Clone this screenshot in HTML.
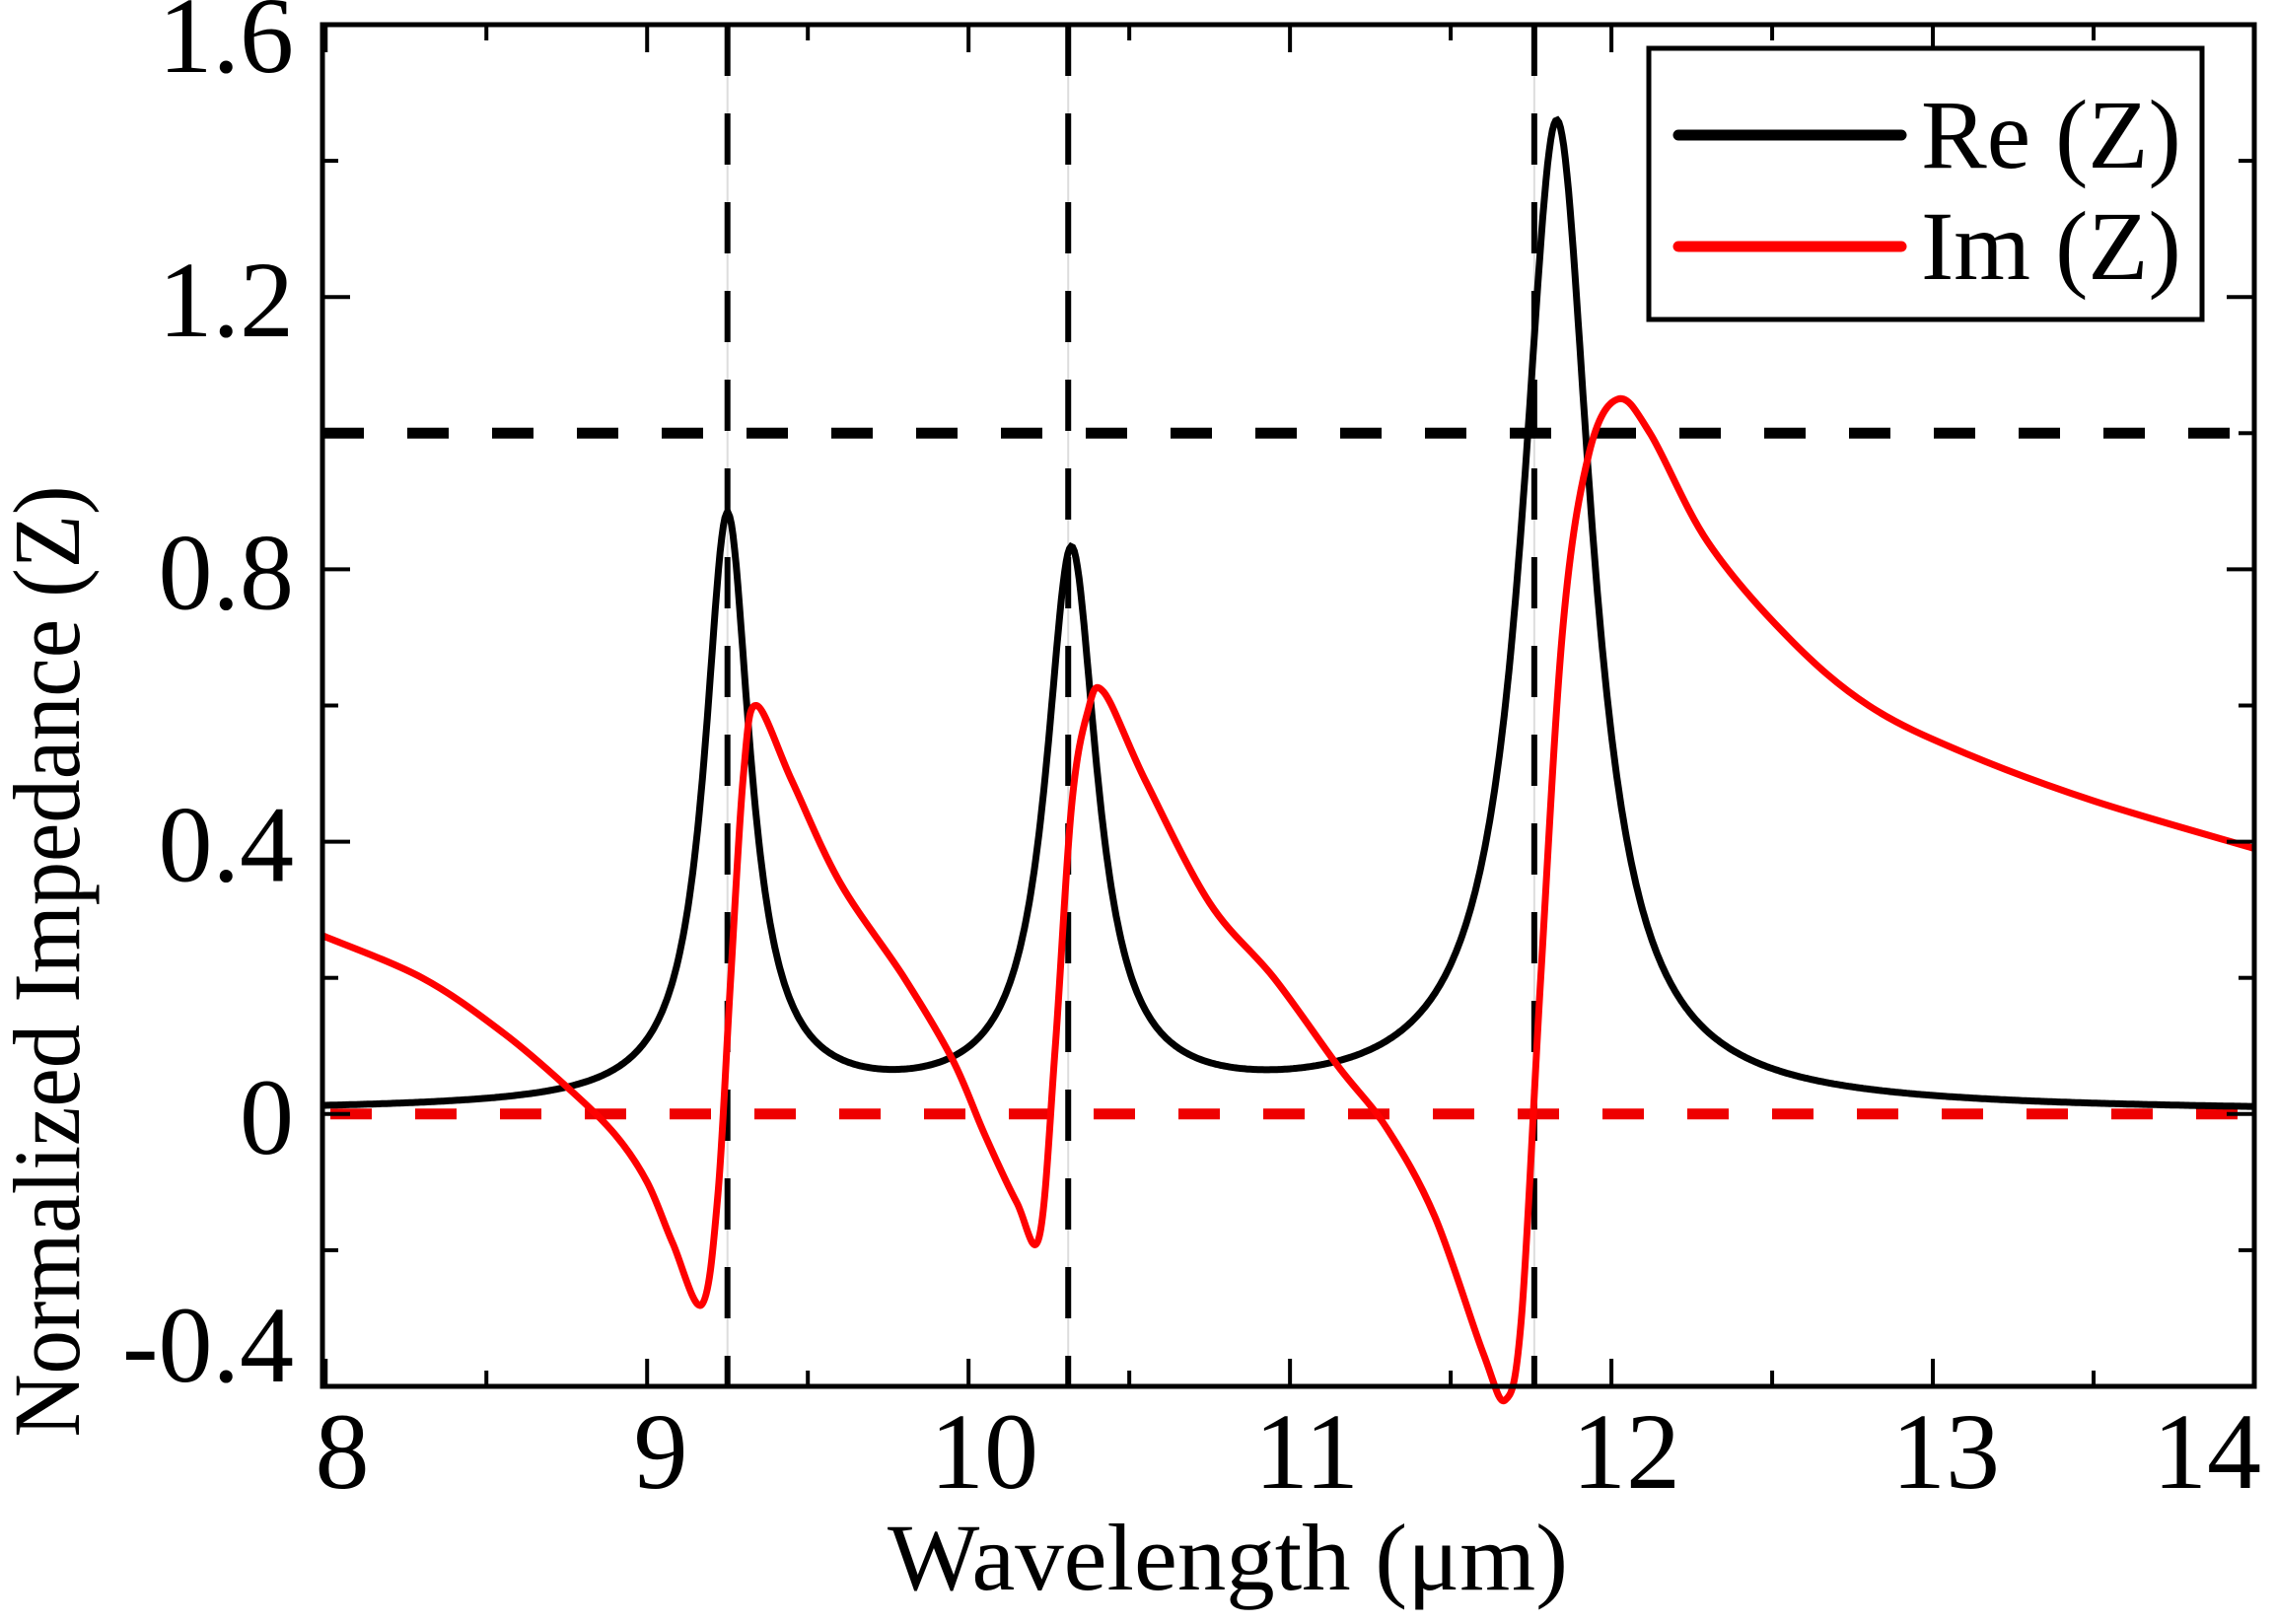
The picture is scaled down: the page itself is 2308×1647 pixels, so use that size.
<!DOCTYPE html>
<html><head><meta charset="utf-8"><style>html,body{margin:0;padding:0;background:#fff}svg{display:block}text{font-family:"Liberation Serif",serif;fill:#000}</style></head>
<body>
<svg id="s" width="2308" height="1647" viewBox="0 0 2308 1647" xmlns="http://www.w3.org/2000/svg">
<g id="g"></g>
<text x="1245" y="1612" font-size="96" text-anchor="middle" textLength="690" lengthAdjust="spacingAndGlyphs">Wavelength (μm)</text>
<text transform="translate(80,975) rotate(-90)" font-size="96" text-anchor="middle" textLength="965" lengthAdjust="spacingAndGlyphs">Normalized Impedance (Z)</text>
<rect x="1672" y="49" width="561" height="275" fill="#fff" stroke="#000" stroke-width="5"/>
<line x1="1702" y1="137" x2="1928" y2="137" stroke="#000" stroke-width="11" stroke-linecap="round"/>
<line x1="1702" y1="250" x2="1928" y2="250" stroke="#f00" stroke-width="11" stroke-linecap="round"/>
<text x="1948" y="170" font-size="100">Re (Z)</text>
<text x="1948" y="283" font-size="100">Im (Z)</text>
</svg>
<script>
const L=327,R=2286,T=25,B=1406,x0=7.99,x1=14.0,y0=-0.4,y1=1.6;
const X=v=>L+(v-x0)/(x1-x0)*(R-L), Y=v=>B-(v-y0)/(y1-y0)*(B-T);
let h='';
[9.25,10.31,11.76].forEach(v=>{const x=X(v);h+=`<line x1="${x}" y1="${T}" x2="${x}" y2="${B}" stroke="#ddd" stroke-width="2"/><line x1="${x}" y1="${T}" x2="${x}" y2="${B}" stroke="#000" stroke-width="6" stroke-dasharray="52 38"/>`;});
h+=`<line x1="${L}" y1="${Y(1)}" x2="${R}" y2="${Y(1)}" stroke="#000" stroke-width="11" stroke-dasharray="42 44"/>`;
h+=`<line x1="${L+8}" y1="${Y(0)}" x2="${R}" y2="${Y(0)}" stroke="#e00" stroke-width="11" stroke-dasharray="42 44"/>`;
const pk=[[9.25,0.83,0.085],[10.32,0.775,0.095],[11.83,1.39,0.13]];
let d='';
for(let i=0;i<=1200;i++){const v=x0+(x1-x0)*i/1200;let r=0.0;pk.forEach(p=>{r+=p[1]*p[2]*p[2]/((v-p[0])**2+p[2]*p[2])+0.045*p[2]/Math.sqrt((v-p[0])**2+p[2]*p[2])*(p[1])});d+=(i?'L':'M')+X(v).toFixed(1)+','+Y(r).toFixed(1);}
h+=`<path d="${d}" fill="none" stroke="#000" stroke-width="7"/>`;
const P=[[7.99,0.262],[8.3,0.2],[8.55,0.12],[8.75,0.04],[8.9,-0.03],[9.0,-0.1],[9.08,-0.19],[9.17,-0.28],[9.22,-0.12],[9.26,0.2],[9.3,0.5],[9.34,0.6],[9.45,0.49],[9.6,0.34],[9.8,0.2],[9.95,0.08],[10.05,-0.03],[10.15,-0.13],[10.22,-0.18],[10.27,0.1],[10.32,0.45],[10.37,0.59],[10.42,0.62],[10.55,0.49],[10.75,0.31],[10.95,0.2],[11.15,0.07],[11.3,-0.02],[11.45,-0.15],[11.6,-0.35],[11.67,-0.42],[11.72,-0.3],[11.78,0.2],[11.85,0.72],[11.93,0.97],[12.02,1.05],[12.12,1.0],[12.3,0.84],[12.55,0.7],[12.8,0.6],[13.1,0.53],[13.5,0.46],[14.0,0.39]].map(p=>[X(p[0]),Y(p[1])]);
let e='M'+P[0][0]+','+P[0][1];
for(let i=0;i<P.length-1;i++){const a=P[Math.max(0,i-1)],b=P[i],c=P[i+1],f=P[Math.min(P.length-1,i+2)];
e+=`C${(b[0]+(c[0]-a[0])/6).toFixed(1)},${(b[1]+(c[1]-a[1])/6).toFixed(1)} ${(c[0]-(f[0]-b[0])/6).toFixed(1)},${(c[1]-(f[1]-b[1])/6).toFixed(1)} ${c[0].toFixed(1)},${c[1].toFixed(1)}`;}
h+=`<path d="${e}" fill="none" stroke="#f00" stroke-width="7"/>`;
h+=`<rect x="${L}" y="${T}" width="${R-L}" height="${B-T}" fill="none" stroke="#000" stroke-width="5"/>`;
const lx={8:347,9:670,10:998,11:1325,12:1649,13:1973,14:2238};
for(let v=8;v<=14.001;v+=0.5){const x=X(v),m=Math.abs(v-Math.round(v))<1e-6,l=m?28:16;
h+=`<line x1="${x}" y1="${B}" x2="${x}" y2="${B-l}" stroke="#000" stroke-width="4"/><line x1="${x}" y1="${T}" x2="${x}" y2="${T+l}" stroke="#000" stroke-width="4"/>`;
if(m)h+=`<text x="${lx[Math.round(v)]}" y="1509" font-size="110" text-anchor="middle">${Math.round(v)}</text>`;}
for(let k=-2;k<=8;k++){const v=k*0.2,y=Y(v),m=k%2==0,l=m?28:16;
h+=`<line x1="${L}" y1="${y}" x2="${L+l}" y2="${y}" stroke="#000" stroke-width="4"/><line x1="${R}" y1="${y}" x2="${R-l}" y2="${y}" stroke="#000" stroke-width="4"/>`;
if(m)h+=`<text x="298" y="${(k==-2?y-5:k==8?y+48:y+40)}" font-size="110" text-anchor="end">${k==0?'0':v.toFixed(1)}</text>`;}
document.getElementById('g').innerHTML=h;
</script>
</body></html>
